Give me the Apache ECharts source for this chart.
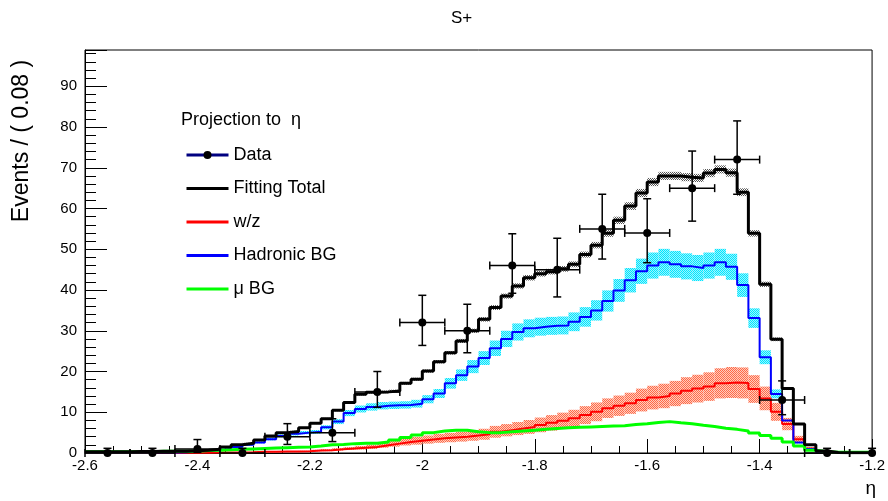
<!DOCTYPE html>
<html><head><meta charset="utf-8">
<script src="https://cdn.jsdelivr.net/npm/echarts@6/dist/echarts.min.js"></script>
<style>html,body{margin:0;padding:0;background:#fff}#c{width:888px;height:501px}</style>
</head><body><div id="c"></div>
<script>
// ---- axis ranges ----
const xMin = -2.6, xMax = -1.2, xTickStep = 0.2;
const yMin = 0, yMax = 98.9, yTickStep = 10;

// ---- fitted curves: 70 bins of width 0.02 starting at -2.6 ----
const curveStart = -2.6, curveStep = 0.02;
const totalFit = [
  0.3,0.3,0.3,0.3,0.35,0.35,0.4,0.4,0.45,0.55,
  0.7,0.9,1.5,2.0,2.4,3.2,4.2,5.0,5.3,6.2,
  7.3,8.4,10.5,12.4,14.4,14.9,15.0,15.2,17.1,18.1,
  20.1,22.4,24.6,27.5,30.0,32.8,35.7,38.5,41.0,43.0,
  44.0,44.5,45.2,46.3,48.7,51.0,53.9,57.1,60.6,63.8,
  66.5,68.0,68.0,67.7,67.5,68.7,69.6,68.8,64.0,53.9,
  41.4,27.9,15.8,7.1,2.0,0.5,0.1,0.05,0.05,0.05];
const totalErr = [
  0.02,0.02,0.02,0.02,0.02,0.02,0.02,0.02,0.03,0.04,
  0.05,0.06,0.08,0.1,0.1,0.12,0.14,0.15,0.16,0.18,
  0.2,0.22,0.25,0.28,0.3,0.32,0.32,0.33,0.35,0.37,
  0.4,0.42,0.45,0.5,0.52,0.55,0.6,0.62,0.65,0.68,
  0.7,0.7,0.7,0.72,0.75,0.8,0.85,0.9,0.95,1.0,
  1.0,1.0,1.0,1.0,1.0,1.0,1.0,1.0,0.95,0.8,
  0.65,0.45,0.3,0.15,0.05,0.02,0.02,0.02,0.02,0.02];
const hadFit = [
  0.1,0.1,0.1,0.1,0.1,0.1,0.15,0.15,0.2,0.4,
  0.5,0.7,1.0,1.5,2.0,2.6,3.4,4.2,4.7,5.0,
  5.2,6.3,7.7,9.8,10.8,11.3,11.6,11.7,11.8,12.1,
  13.2,14.6,17.1,19.1,21.2,23.3,25.7,28.0,29.7,30.6,
  31.0,31.2,31.3,32.2,33.4,35.0,37.3,39.9,42.4,44.6,
  46.0,46.8,46.3,45.8,45.4,46.0,46.8,45.7,41.2,33.1,
  23.5,14.5,8.0,2.6,1.0,0.3,0.1,0.05,0.05,0.05];
const hadErr = [
  0.02,0.02,0.02,0.02,0.02,0.02,0.02,0.02,0.03,0.05,
  0.05,0.07,0.1,0.15,0.2,0.25,0.3,0.35,0.4,0.4,
  0.45,0.5,0.6,0.75,0.85,0.9,0.9,0.9,0.9,0.95,
  1.0,1.1,1.3,1.4,1.6,1.7,1.9,2.0,2.1,2.2,
  2.2,2.2,2.2,2.3,2.4,2.5,2.6,2.8,3.0,3.1,
  3.2,3.3,3.3,3.2,3.2,3.2,3.3,3.2,2.9,2.4,
  1.7,1.1,0.6,0.25,0.1,0.03,0.02,0.02,0.02,0.02];
const wzFit = [
  0.02,0.02,0.02,0.02,0.02,0.02,0.02,0.05,0.05,0.07,
  0.08,0.1,0.1,0.15,0.2,0.3,0.3,0.35,0.35,0.4,
  0.6,0.7,0.9,1.1,1.3,1.5,1.9,2.3,2.7,3.0,
  3.3,3.6,3.8,4.0,4.3,4.6,5.2,5.6,6.0,6.4,
  6.9,7.4,7.9,8.5,9.3,10.1,11.0,11.6,12.2,13.0,
  13.6,14.0,14.6,15.3,15.8,16.3,17.1,17.3,17.2,15.7,
  13.4,10.1,7.1,3.4,1.1,0.3,0.05,0.05,0.05,0.05];
const wzErr = [
  0.01,0.01,0.01,0.01,0.01,0.01,0.01,0.02,0.02,0.03,
  0.03,0.04,0.04,0.05,0.08,0.1,0.1,0.12,0.12,0.14,
  0.2,0.25,0.3,0.35,0.45,0.5,0.6,0.75,0.85,0.95,
  1.0,1.1,1.15,1.2,1.3,1.35,1.45,1.5,1.6,1.7,
  1.8,1.9,2.0,2.1,2.2,2.3,2.4,2.5,2.6,2.8,
  2.9,3.0,3.1,3.3,3.4,3.5,3.7,3.8,3.8,3.4,
  2.9,2.2,1.5,0.8,0.3,0.1,0.02,0.02,0.02,0.02];
const muFit = [
  0.3,0.3,0.3,0.3,0.3,0.3,0.4,0.4,0.4,0.4,
  0.6,0.7,0.8,0.9,1.0,1.1,1.2,1.3,1.4,1.5,
  1.7,2.0,2.1,2.3,2.4,2.4,2.7,3.2,3.8,4.4,
  5.0,5.4,5.6,5.6,5.2,5.0,5.0,5.2,5.4,5.6,
  5.8,6.0,6.2,6.3,6.4,6.5,6.6,6.7,7.0,7.2,
  7.5,7.7,7.4,7.2,6.8,6.5,6.1,5.8,5.4,4.9,
  4.3,3.6,2.7,1.7,0.7,0.3,0.2,0.2,0.2,0.2];

// ---- data points (bin width 0.08) ----
const dataBinWidth = 0.08;
const dataX  = [-2.56,-2.48,-2.40,-2.32,-2.24,-2.16,-2.08,-2.00,-1.92,-1.84,-1.76,-1.68,-1.60,-1.52,-1.44,-1.36,-1.28,-1.20];
const dataY  = [0,0,1,0,4,5,15,32,30,46,45,55,54,65,72,13,0,0];
const dataLo = [0,0,0.17,0,2.1,2.8,11.2,26.4,24.6,39.2,38.3,47.6,46.7,56.9,63.5,9.4,0,0];
const dataHi = [1.15,1.15,3.3,1.15,7.2,8.4,20.0,38.7,36.5,53.8,52.7,63.5,62.4,74.1,81.5,17.7,1.15,1.15];

// ---- text ----
const titleText = 'S+';
const yTitle = 'Events / ( 0.08 )';
const xTitle = 'η';
const legendHeader = 'Projection to  η';
const names = ['Data','Fitting Total','w/z','Hadronic BG','μ BG'];

const FONT = 'Liberation Sans, Arial, Helvetica, sans-serif';
const edge = i => +(curveStart + i * curveStep).toFixed(2);
const stepData = arr => arr.map((v, i) => [edge(i), v]).concat([[edge(arr.length), arr[arr.length - 1]]]);

function pattern(c1, c2) {
  const c = document.createElement('canvas');
  c.width = 2; c.height = 2;
  const g = c.getContext('2d');
  if (c2) { g.fillStyle = c2; g.fillRect(0, 0, 2, 2); }
  g.fillStyle = c1;
  g.fillRect(0, 0, 1, 1); g.fillRect(1, 1, 1, 1);
  return { image: c, repeat: 'repeat' };
}

function bandSeries(name, vals, errs, fill, z) {
  return {
    type: 'custom', name: name, silent: true, z: z, clip: true, animation: false,
    data: vals.map((v, i) => [edge(i), edge(i + 1), Math.max(0, v - errs[i]), v + errs[i]]),
    encode: { x: [0, 1], y: [2, 3] },
    renderItem: function (params, api) {
      const p0 = api.coord([api.value(0), api.value(3)]);
      const p1 = api.coord([api.value(1), api.value(2)]);
      return { type: 'rect', shape: { x: p0[0], y: p0[1], width: p1[0] - p0[0], height: p1[1] - p0[1] },
               style: { fill: fill, stroke: null } };
    }
  };
}

function stepLine(name, arr, color, width, z) {
  return {
    type: 'line', name: name, data: stepData(arr), step: 'end',
    symbol: 'none', showSymbol: false, clip: true, z: z, animation: false,
    lineStyle: { color: color, width: width }, itemStyle: { color: color },
    emphasis: { disabled: true }
  };
}

const hideDot = { opacity: 0 };
const chart = echarts.init(document.getElementById('c'), null, { renderer: 'canvas' });
chart.setOption({
  backgroundColor: '#fff',
  animation: false,
  title: [
    { text: titleText, left: 446, top: 5, textStyle: { fontFamily: FONT, fontSize: 17, fontWeight: 'normal', color: '#000' } },
    { text: legendHeader, left: 176, top: 106, textStyle: { fontFamily: FONT, fontSize: 18, fontWeight: 'normal', color: '#000' } }
  ],
  grid: { left: 85, right: 10, top: 50, bottom: 48, containLabel: false, show: true, borderColor: '#000', borderWidth: 1, backgroundColor: 'transparent' },
  legend: {
    orient: 'vertical', left: 180, top: 141, itemWidth: 42, itemHeight: 10, itemGap: 15.5,
    textStyle: { fontFamily: FONT, fontSize: 18, color: '#000', lineHeight: 18 },
    selectedMode: false,
    data: [
      { name: names[0], lineStyle: { color: '#000080', width: 3, opacity: 1 }, itemStyle: { color: '#000', opacity: 1 } },
      { name: names[1], lineStyle: { color: '#000', width: 3 }, itemStyle: hideDot },
      { name: names[2], lineStyle: { color: '#ff0000', width: 3 }, itemStyle: hideDot },
      { name: names[3], lineStyle: { color: '#0000ff', width: 3 }, itemStyle: hideDot },
      { name: names[4], lineStyle: { color: '#00ff00', width: 3 }, itemStyle: hideDot }
    ]
  },
  graphic: [
    { type: 'text', x: 22, y: 141, rotation: Math.PI / 2,
      style: { text: yTitle, fontFamily: FONT, fontSize: 23, fill: '#000', align: 'center', verticalAlign: 'middle' } }
  ],
  xAxis: {
    type: 'value', min: xMin, max: xMax, interval: xTickStep,
    name: xTitle, nameLocation: 'end', nameGap: 4,
    nameTextStyle: { fontFamily: FONT, fontSize: 19, color: '#000', align: 'right', verticalAlign: 'top', padding: [26, 0, 0, 0] },
    axisLine: { show: true, onZero: false, lineStyle: { color: '#000', width: 1 } },
    axisTick: { show: true, inside: true, length: 14, lineStyle: { color: '#000', width: 1 } },
    minorTick: { show: true, splitNumber: 4, length: 7, lineStyle: { color: '#000', width: 1 } },
    axisLabel: { show: true, color: '#000', fontFamily: FONT, fontSize: 15, margin: 5, formatter: v => String(+(+v).toFixed(1)) },
    splitLine: { show: false }, minorSplitLine: { show: false }
  },
  yAxis: {
    type: 'value', min: yMin, max: yMax, interval: yTickStep,
    axisLine: { show: true, onZero: false, lineStyle: { color: '#000', width: 1 } },
    axisTick: { show: true, inside: true, length: 22, lineStyle: { color: '#000', width: 1 } },
    minorTick: { show: true, splitNumber: 5, length: 11, lineStyle: { color: '#000', width: 1 } },
    axisLabel: { show: true, color: '#000', fontFamily: FONT, fontSize: 15, margin: 8,
      formatter: v => (Math.abs(v / yTickStep - Math.round(v / yTickStep)) < 1e-6 ? String(Math.round(v)) : '') },
    splitLine: { show: false }, minorSplitLine: { show: false }
  },
  series: [
    bandSeries('hadBand', hadFit, hadErr, pattern('#00e6ff', '#9af4ff'), 1),
    bandSeries('wzBand', wzFit, wzErr, pattern('#ff6a48', '#ffcbbd'), 1),
    bandSeries('totBand', totalFit, totalErr, pattern('#555555', null), 1),
    stepLine(names[2], wzFit, '#ff0000', 2, 2),
    stepLine(names[3], hadFit, '#0000ff', 2, 2),
    stepLine(names[4], muFit, '#00ff00', 3, 2),
    stepLine(names[1], totalFit, '#000000', 3, 3),
    {
      type: 'custom', name: 'errors', silent: true, z: 4, clip: false, animation: false,
      data: dataX.map((x, i) => [x, dataY[i], dataLo[i], dataHi[i]]),
      encode: { x: 0, y: [1, 2, 3] },
      renderItem: function (params, api) {
        const x = api.value(0), y = api.value(1), lo = api.value(2), hi = api.value(3);
        const pl = api.coord([Math.max(xMin, x - dataBinWidth / 2), y]);
        const pr = api.coord([Math.min(xMax, x + dataBinWidth / 2), y]);
        const pt = api.coord([x, hi]);
        const pb = api.coord([x, lo]);
        const cap = 4;
        const st = { stroke: '#000', lineWidth: 1.5 };
        const ch = [
          { type: 'line', shape: { x1: pl[0], y1: pl[1], x2: pr[0], y2: pr[1] }, style: st },
          { type: 'line', shape: { x1: pt[0], y1: pt[1], x2: pb[0], y2: pb[1] }, style: st },
          { type: 'line', shape: { x1: pt[0] - cap, y1: pt[1], x2: pt[0] + cap, y2: pt[1] }, style: st }
        ];
        if (lo > 0) ch.push({ type: 'line', shape: { x1: pb[0] - cap, y1: pb[1], x2: pb[0] + cap, y2: pb[1] }, style: st });
        if (x - dataBinWidth / 2 >= xMin) ch.push({ type: 'line', shape: { x1: pl[0], y1: pl[1] - cap, x2: pl[0], y2: pl[1] + cap }, style: st });
        if (x + dataBinWidth / 2 <= xMax) ch.push({ type: 'line', shape: { x1: pr[0], y1: pr[1] - cap, x2: pr[0], y2: pr[1] + cap }, style: st });
        return { type: 'group', children: ch };
      }
    },
    {
      type: 'line', name: names[0], data: dataX.map((x, i) => [x, dataY[i]]),
      symbol: 'circle', symbolSize: 8, showSymbol: true, clip: false, z: 5, animation: false,
      lineStyle: { width: 0, opacity: 0, color: '#000080' }, itemStyle: { color: '#000' },
      emphasis: { disabled: true }
    }
  ]
});
</script>
</body></html>
